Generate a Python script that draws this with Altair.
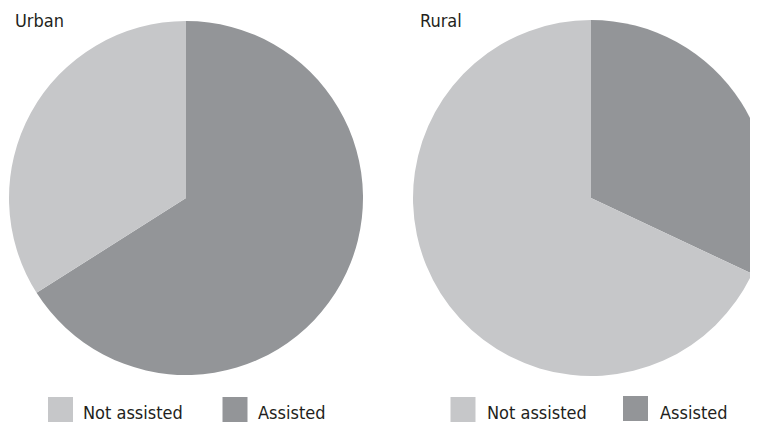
import altair as alt
import pandas as pd

groups = ["Urban", "Urban", "Rural", "Rural"]
categories = ["Assisted", "Not assisted", "Assisted", "Not assisted"]
values = [66, 34, 32, 68]
order_idx = [0, 1, 0, 1]

legend_labels = ["Not assisted", "Assisted"]
colors = ["#c6c7c9", "#939598"]

df = pd.DataFrame({"group": groups, "category": categories, "value": values, "ord": order_idx})

FONT = "DejaVu Sans Condensed"
FS = 18
TXT = "#231f20"
color_scale = alt.Scale(domain=legend_labels, range=colors)

base = alt.Chart(df)

def pie(group, cx, cy, r):
    return base.transform_filter(alt.datum.group == group).mark_arc(stroke=None).encode(
        theta=alt.Theta("value:Q", stack=True),
        color=alt.Color("category:N", scale=color_scale, legend=None),
        order=alt.Order("ord:Q"),
        x=alt.value(cx), y=alt.value(cy), radius=alt.value(r),
    )

def label(txt, x, y):
    return alt.Chart(pd.DataFrame({"t": [txt]})).mark_text(
        font=FONT, fontSize=FS, align="left", baseline="alphabetic", color=TXT
    ).encode(text="t:N", x=alt.value(x), y=alt.value(y))

def swatch(cat, x, y):
    return alt.Chart(pd.DataFrame({"category": [cat]})).mark_square(size=625, opacity=1).encode(
        x=alt.value(x), y=alt.value(y),
        color=alt.Color("category:N", scale=color_scale, legend=None),
    )

chart = alt.layer(
    pie("Urban", 178, 190, 177),
    pie("Rural", 583, 190, 178),
    label("Urban", 7, 19),
    label("Rural", 412, 19),
    swatch(legend_labels[0], 52.5, 401.5),
    label(legend_labels[0], 75, 411),
    swatch(legend_labels[1], 227, 401.5),
    label(legend_labels[1], 250, 411),
    swatch(legend_labels[0], 455, 401.5),
    label(legend_labels[0], 479, 411),
    swatch(legend_labels[1], 627.5, 400.5),
    label(legend_labels[1], 652, 411),
).properties(
    width=742, height=415, padding=0, autosize=alt.AutoSizeParams(type="none")
).configure_view(stroke=None)

chart.save("out.html", embed_options={"renderer": "svg", "actions": False})
